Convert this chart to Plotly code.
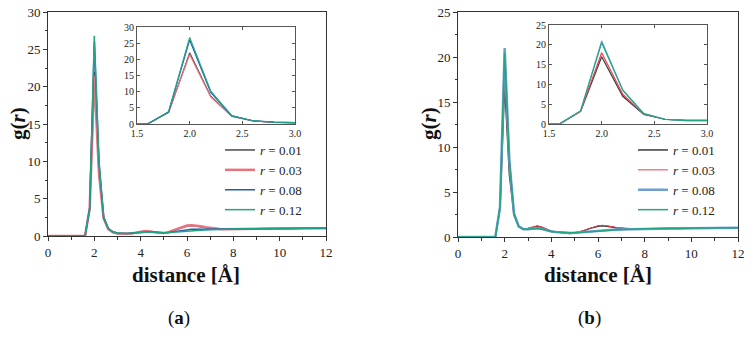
import plotly.graph_objects as go

x = [0, 1.6, 1.8, 2.0, 2.2, 2.4, 2.6, 2.8, 3.0, 3.2, 3.4, 3.6, 3.8, 4.0, 4.2, 4.4, 4.6, 4.8, 5.0,
     5.2, 5.4, 5.6, 5.8, 6.0, 6.2, 6.4, 6.6, 6.8, 7.0, 7.2, 7.4, 7.6, 7.8, 8.0, 8.5, 9.0, 9.5,
     10.0, 10.5, 11.0, 11.5, 12.0]

labels = ["<i>r</i> = 0.01", "<i>r</i> = 0.03", "<i>r</i> = 0.08", "<i>r</i> = 0.12"]

# panel (a)
a_r001 = [0, 0, 3.6, 22.0, 8.6, 2.4, 0.95, 0.5, 0.35, 0.3, 0.3, 0.35, 0.45, 0.55, 0.62, 0.6, 0.5, 0.42, 0.4,
          0.5, 0.7, 0.95, 1.2, 1.35, 1.4, 1.35, 1.25, 1.15, 1.05, 1.0, 0.95, 0.92, 0.92, 0.92, 0.92, 0.92, 0.95,
          1.0, 1.02, 1.05, 1.05, 1.05]
a_r003 = [0, 0, 3.7, 21.5, 8.4, 2.4, 0.95, 0.5, 0.35, 0.3, 0.3, 0.35, 0.45, 0.58, 0.66, 0.62, 0.5, 0.42, 0.4,
          0.52, 0.75, 1.0, 1.25, 1.4, 1.45, 1.4, 1.3, 1.18, 1.08, 1.0, 0.95, 0.92, 0.92, 0.92, 0.92, 0.93, 0.96,
          1.0, 1.02, 1.05, 1.05, 1.05]
a_r008 = [0, 0, 3.7, 26.0, 9.8, 2.5, 1.0, 0.55, 0.4, 0.35, 0.35, 0.4, 0.45, 0.5, 0.55, 0.55, 0.5, 0.45, 0.42,
          0.48, 0.58, 0.68, 0.78, 0.85, 0.9, 0.9, 0.9, 0.9, 0.9, 0.9, 0.9, 0.9, 0.92, 0.92, 0.94, 0.95, 0.97,
          1.0, 1.02, 1.05, 1.05, 1.05]
a_r012 = [0, 0, 3.8, 26.8, 10.2, 2.6, 1.0, 0.55, 0.4, 0.35, 0.35, 0.4, 0.45, 0.5, 0.52, 0.52, 0.48, 0.44, 0.42,
          0.45, 0.5, 0.56, 0.62, 0.68, 0.72, 0.75, 0.78, 0.8, 0.83, 0.86, 0.88, 0.9, 0.92, 0.94, 0.96, 0.98, 1.0,
          1.02, 1.04, 1.06, 1.06, 1.06]

# panel (b)
b_r001 = [0, 0, 3.2, 17.0, 7.0, 2.4, 1.2, 0.9, 0.95, 1.05, 1.2, 1.05, 0.85, 0.65, 0.55, 0.5, 0.45, 0.4, 0.45,
          0.55, 0.7, 0.9, 1.05, 1.2, 1.25, 1.2, 1.1, 1.0, 0.95, 0.92, 0.9, 0.88, 0.88, 0.88, 0.9, 0.92, 0.95,
          0.98, 1.0, 1.0, 1.0, 1.0]
b_r003 = [0, 0, 3.2, 18.0, 7.5, 2.5, 1.2, 0.9, 0.95, 1.1, 1.25, 1.1, 0.85, 0.65, 0.55, 0.48, 0.42, 0.38, 0.42,
          0.55, 0.72, 0.92, 1.1, 1.25, 1.3, 1.25, 1.15, 1.05, 0.97, 0.93, 0.9, 0.88, 0.88, 0.88, 0.9, 0.92, 0.95,
          0.98, 1.0, 1.0, 1.0, 1.0]
b_r008 = [0, 0, 3.3, 21.0, 8.5, 2.6, 1.2, 0.85, 0.85, 0.95, 1.0, 0.9, 0.75, 0.6, 0.55, 0.5, 0.48, 0.45, 0.48,
          0.52, 0.58, 0.64, 0.7, 0.74, 0.76, 0.78, 0.8, 0.82, 0.84, 0.86, 0.87, 0.88, 0.89, 0.9, 0.92, 0.94, 0.96,
          0.98, 1.0, 1.02, 1.02, 1.02]
b_r012 = [0, 0, 3.3, 20.5, 8.6, 2.6, 1.15, 0.85, 0.85, 0.92, 0.95, 0.85, 0.72, 0.6, 0.55, 0.5, 0.48, 0.46, 0.48,
          0.52, 0.56, 0.6, 0.65, 0.7, 0.73, 0.76, 0.79, 0.81, 0.83, 0.85, 0.87, 0.88, 0.9, 0.92, 0.94, 0.96, 0.98,
          1.0, 1.02, 1.04, 1.04, 1.04]

colors = ["#4a4a4a", "#e8737c", "#1f5fae", "#23a585"]
colors_b = ["#3a3a3a", "#e8404e", "#6f9fd0", "#23a585"]
widths_a = [1.5, 2.5, 1.5, 1.5]
widths_b = [1.5, 1.0, 2.5, 1.5]

SERIF = "Liberation Serif, Times New Roman, serif"
AX = "#333333"

fig = go.Figure()

series_a = [a_r001, a_r003, a_r008, a_r012]
series_b = [b_r001, b_r003, b_r008, b_r012]

for i, ys in enumerate(series_a):
    fig.add_trace(go.Scatter(x=x, y=ys, mode="lines", name=labels[i],
                             line=dict(color=colors[i], width=widths_a[i]),
                             xaxis="x", yaxis="y", legend="legend"))
for i, ys in enumerate(series_a):
    fig.add_trace(go.Scatter(x=x, y=ys, mode="lines", showlegend=False,
                             line=dict(color=colors[i], width=1.2),
                             xaxis="x2", yaxis="y2"))
for i, ys in enumerate(series_b):
    fig.add_trace(go.Scatter(x=x, y=ys, mode="lines", name=labels[i],
                             line=dict(color=colors_b[i], width=widths_b[i]),
                             xaxis="x3", yaxis="y3", legend="legend2"))
for i, ys in enumerate(series_b):
    fig.add_trace(go.Scatter(x=x, y=ys, mode="lines", showlegend=False,
                             line=dict(color=colors_b[i], width=1.2),
                             xaxis="x4", yaxis="y4"))

W, H = 752, 337


def px_x(p):
    return p / W


def px_y(p):
    return 1 - p / H


main_common = dict(showline=True, linecolor=AX, linewidth=1, mirror=True, ticks="outside",
                   ticklen=4, tickcolor=AX, showgrid=False, zeroline=False, automargin=False,
                   tickfont=dict(family=SERIF, size=13, color="#222"))
inset_common = dict(showline=True, linecolor="#555", linewidth=0.8, mirror="ticks", ticks="inside",
                    ticklen=3, tickcolor="#555", showgrid=False, zeroline=False, automargin=False,
                    tickfont=dict(family=SERIF, size=10, color="#222"))

fig.update_layout(
    template="none",
    width=W, height=H, margin=dict(l=0, r=0, t=0, b=0, autoexpand=False),
    paper_bgcolor="white", plot_bgcolor="white",
    font=dict(family=SERIF, color="#222"),
    hovermode=False,
    xaxis=dict(domain=[px_x(48), px_x(326)], range=[0, 12], dtick=2, anchor="y",
               minor=dict(dtick=1, ticks="outside", ticklen=2.5, tickcolor=AX), **main_common),
    yaxis=dict(domain=[px_y(236), px_y(12)], range=[0, 30], dtick=5, anchor="x",
               minor=dict(dtick=2.5, ticks="outside", ticklen=2.5, tickcolor=AX), **main_common),
    xaxis2=dict(domain=[px_x(137), px_x(295)], range=[1.5, 3.0], dtick=0.5, anchor="y2",
                tickformat=".1f", **inset_common),
    yaxis2=dict(domain=[px_y(124), px_y(27)], range=[0, 30], dtick=5, anchor="x2", **inset_common),
    xaxis3=dict(domain=[px_x(458), px_x(738)], range=[0, 12], dtick=2, anchor="y3",
                minor=dict(dtick=1, ticks="outside", ticklen=2.5, tickcolor=AX), **main_common),
    yaxis3=dict(domain=[px_y(237), px_y(12)], range=[0, 25], dtick=5, anchor="x3",
                minor=dict(dtick=2.5, ticks="outside", ticklen=2.5, tickcolor=AX), **main_common),
    xaxis4=dict(domain=[px_x(549), px_x(707)], range=[1.5, 3.0], dtick=0.5, anchor="y4",
                tickformat=".1f", **inset_common),
    yaxis4=dict(domain=[px_y(124), px_y(25)], range=[0, 25], dtick=5, anchor="x4", **inset_common),
    legend=dict(x=px_x(220), y=px_y(180), xanchor="left", yanchor="middle",
                bgcolor="rgba(0,0,0,0)", font=dict(family=SERIF, size=13, color="#222"),
                tracegroupgap=0, itemwidth=30),
    legend2=dict(x=px_x(633), y=px_y(180), xanchor="left", yanchor="middle",
                 bgcolor="rgba(0,0,0,0)", font=dict(family=SERIF, size=13, color="#222"),
                 tracegroupgap=0, itemwidth=30),
    showlegend=True,
)

ann = []
for cx in (186, 598):
    ann.append(dict(text="<b>distance [Å]</b>", x=px_x(cx), y=px_y(275), xref="paper", yref="paper",
                    xanchor="center", yanchor="middle",
                    showarrow=False, font=dict(family=SERIF, size=21, color="#111")))
for cx in (18, 429):
    ann.append(dict(text="<b>g(<i>r</i>)</b>", x=px_x(cx), y=px_y(124), xref="paper", yref="paper",
                    xanchor="center", yanchor="middle",
                    showarrow=False, textangle=-90, font=dict(family=SERIF, size=21, color="#111")))
for cx, lab in ((179, "a"), (589, "b")):
    ann.append(dict(text="(<b>" + lab + "</b>)", x=px_x(cx), y=px_y(318), xref="paper", yref="paper",
                    xanchor="center", yanchor="middle",
                    showarrow=False, font=dict(family=SERIF, size=19, color="#111")))
fig.update_layout(annotations=ann)

fig.write_html("out.html", config={"displayModeBar": False},
               post_script="document.body.style.margin='0';")
